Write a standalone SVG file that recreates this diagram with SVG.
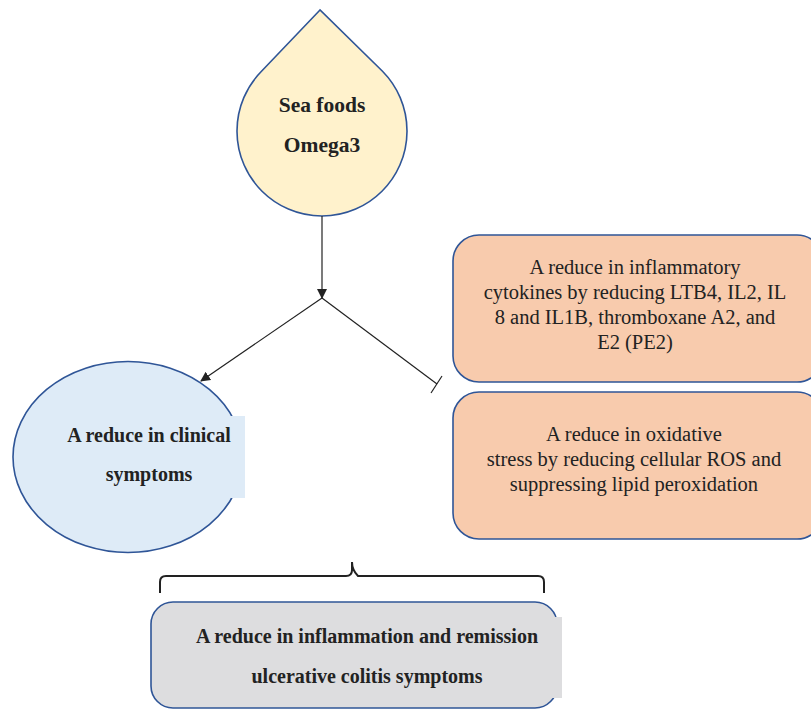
<svg xmlns="http://www.w3.org/2000/svg" width="811" height="711" viewBox="0 0 811 711">
<style>
.node{stroke:#2F5597;stroke-width:1.6}
.b{font-family:"Liberation Serif","Times New Roman",serif;font-weight:bold;font-size:20px;fill:#222;text-anchor:middle}
.r{font-family:"Liberation Serif","Times New Roman",serif;font-size:20.5px;fill:#222;text-anchor:middle}
.c{stroke:#222;stroke-width:1.2;fill:none}
</style>
<defs>
<marker id="ah" markerWidth="10" markerHeight="10" refX="9" refY="5" orient="auto" markerUnits="userSpaceOnUse">
<path d="M0,0 L10,5 L0,10 Z" fill="#222"/>
</marker>
</defs>
<rect width="811" height="711" fill="#fff"/>
<g id="drop">
<path class="node" fill="#FFF2CC" d="M320,10 L261.5,71.3 A85,85 0 1,0 382.5,71.3 Z"/>
<text class="b" x="322" y="112" style="font-size:21.5px">Sea foods</text>
<text class="b" x="322" y="152" style="font-size:21.5px">Omega3</text>
</g>
<g id="clinical">
<ellipse class="node" fill="#DEEBF7" cx="128" cy="457" rx="115" ry="95.5"/>
<rect x="60" y="416" width="185" height="82" fill="#DEEBF7"/>
<text class="b" x="149" y="442">A reduce in clinical</text>
<text class="b" x="149" y="481">symptoms</text>
</g>
<g id="cytokines">
<rect class="node" fill="#F8CBAD" x="453" y="235" width="370" height="147" rx="26"/>
<text class="r" x="635" y="274">A reduce in inflammatory</text>
<text class="r" x="635" y="299">cytokines by reducing LTB4, IL2, IL</text>
<text class="r" x="635" y="324">8 and IL1B, thromboxane A2, and</text>
<text class="r" x="635" y="349">E2 (PE2)</text>
</g>
<g id="oxidative">
<rect class="node" fill="#F8CBAD" x="453" y="392" width="370" height="147" rx="26"/>
<text class="r" x="634" y="441">A reduce in oxidative</text>
<text class="r" x="634" y="466">stress by reducing cellular ROS and</text>
<text class="r" x="634" y="491">suppressing lipid peroxidation</text>
</g>
<g id="outcome">
<rect class="node" fill="#DDDDDF" x="151" y="602" width="406" height="106" rx="22"/>
<rect x="500" y="617" width="62" height="81" fill="#DDDDDF"/>
<text class="b" x="367" y="643">A reduce in inflammation and remission</text>
<text class="b" x="367" y="683">ulcerative colitis symptoms</text>
</g>
<g id="connectors">
<line class="c" x1="322" y1="216" x2="322" y2="298" marker-end="url(#ah)"/>
<line class="c" x1="322" y1="298" x2="201" y2="381" marker-end="url(#ah)"/>
<line class="c" x1="322" y1="298" x2="437" y2="384"/>
<line class="c" x1="442" y1="376" x2="431" y2="393"/>
<path d="M160,593 V582 Q160,576 166,576 H346 Q352,576 352,570 V562 Q352,570 358,576 H538 Q544,576 544,582 V593" fill="none" stroke="#222" stroke-width="2"/>
</g>
</svg>
